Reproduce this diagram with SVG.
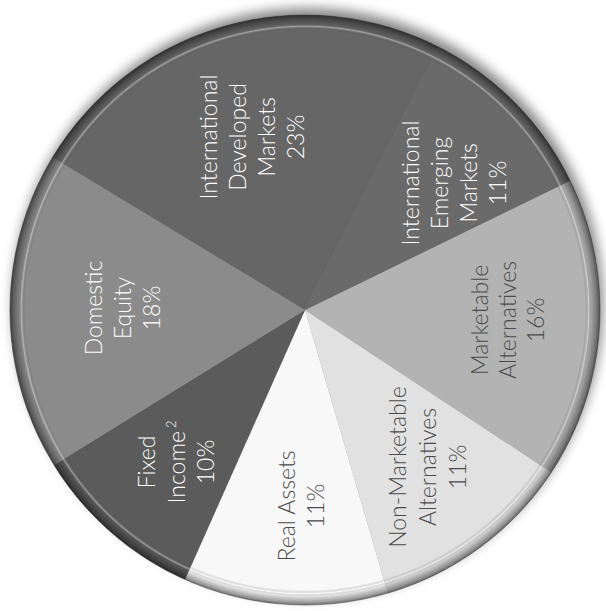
<svg xmlns="http://www.w3.org/2000/svg" width="606" height="611" viewBox="0 0 606 611">
  <style>
    .lbl { font-family: Lato, "Open Sans", "Liberation Sans", sans-serif; font-size: 23px; font-weight: 300; text-anchor: middle; }
    .lt { fill: #ffffff; }
    .dk { fill: #4a4a4a; }
    .sup { font-size: 13px; }
  </style>
  <defs>
    <filter id="blur" x="-20%" y="-20%" width="140%" height="140%">
      <feGaussianBlur stdDeviation="6"/>
    </filter>
    <radialGradient id="rim" gradientUnits="userSpaceOnUse" cx="305" cy="310" r="295">
      <stop offset="0" stop-color="#000" stop-opacity="0"/>
      <stop offset="0.950" stop-color="#000" stop-opacity="0"/>
      <stop offset="0.962" stop-color="#fff" stop-opacity="0.4"/>
      <stop offset="0.970" stop-color="#000" stop-opacity="0.08"/>
      <stop offset="0.99" stop-color="#000" stop-opacity="0.35"/>
      <stop offset="1" stop-color="#000" stop-opacity="0.55"/>
    </radialGradient>
  </defs>
  <rect width="606" height="611" fill="#ffffff"/>
  <!-- shadow -->
  <circle cx="308" cy="303" r="295" fill="#555" opacity="0.7" filter="url(#blur)"/>

  <g id="marketable-alternatives">
    <path d="M305 310 L570.14 180.68 A295 295 0 0 1 551.28 472.39 Z" fill="#b3b3b3"/>
  </g>
  <g id="non-marketable-alternatives">
    <path d="M305 310 L551.28 472.39 A295 295 0 0 1 387.80 593.14 Z" fill="#e1e1e1"/>
  </g>
  <g id="real-assets">
    <path d="M305 310 L387.80 593.14 A295 295 0 0 1 185.01 579.50 Z" fill="#f8f8f8"/>
  </g>
  <g id="fixed-income">
    <path d="M305 310 L185.01 579.50 A295 295 0 0 1 54.01 465.01 Z" fill="#5b5b5b"/>
  </g>
  <g id="domestic-equity">
    <path d="M305 310 L54.01 465.01 A295 295 0 0 1 52.67 157.18 Z" fill="#8b8b8b"/>
  </g>
  <g id="international-developed">
    <path d="M305 310 L52.67 157.18 A295 295 0 0 1 438.93 47.15 Z" fill="#666666"/>
  </g>
  <g id="international-emerging">
    <path d="M305 310 L438.93 47.15 A295 295 0 0 1 570.14 180.68 Z" fill="#6a6a6a"/>
  </g>

  <!-- rim bevel -->
  <circle cx="305" cy="310" r="295" fill="url(#rim)"/>
  <circle cx="305" cy="310" r="295" fill="none" stroke="#333" stroke-opacity="0.5" stroke-width="1"/>

  <g id="labels">
    <g transform="translate(217,137) rotate(-90)">
      <text class="lbl lt"><tspan x="0" y="0">International</tspan><tspan x="0" y="29">Developed</tspan><tspan x="0" y="58">Markets</tspan><tspan x="0" y="87">23%</tspan></text>
    </g>
    <g transform="translate(419,183) rotate(-90)">
      <text class="lbl lt"><tspan x="0" y="0">International</tspan><tspan x="0" y="29">Emerging</tspan><tspan x="0" y="58">Markets</tspan><tspan x="0" y="87">11%</tspan></text>
    </g>
    <g transform="translate(102,308) rotate(-90)">
      <text class="lbl lt"><tspan x="0" y="0">Domestic</tspan><tspan x="0" y="29">Equity</tspan><tspan x="0" y="58">18%</tspan></text>
    </g>
    <g transform="translate(155,462) rotate(-90)">
      <text class="lbl lt"><tspan x="0" y="0">Fixed</tspan><tspan x="0" y="30">Income</tspan><tspan class="sup" dx="3" dy="-9">2</tspan><tspan x="0" y="59">10%</tspan></text>
    </g>
    <g transform="translate(295,506) rotate(-90)">
      <text class="lbl dk"><tspan x="0" y="0">Real Assets</tspan><tspan x="0" y="29">11%</tspan></text>
    </g>
    <g transform="translate(406,467) rotate(-90)">
      <text class="lbl dk"><tspan x="0" y="0">Non-Marketable</tspan><tspan x="0" y="30">Alternatives</tspan><tspan x="0" y="60">11%</tspan></text>
    </g>
    <g transform="translate(488,320) rotate(-90)">
      <text class="lbl dk"><tspan x="0" y="0">Marketable</tspan><tspan x="0" y="28">Alternatives</tspan><tspan x="0" y="56">16%</tspan></text>
    </g>
  </g>
</svg>
